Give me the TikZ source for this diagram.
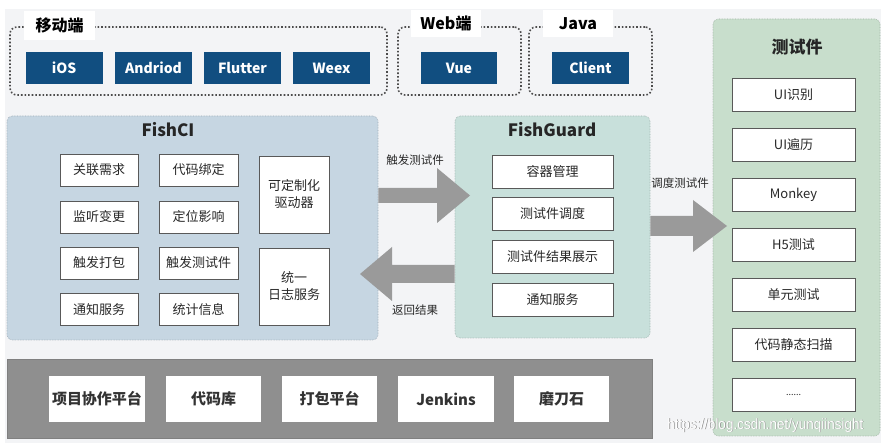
\documentclass[tikz,border=0pt]{standalone}
\usepackage{fontspec}
\setmainfont{Noto Sans CJK SC}
\newfontfamily\wmfont{Liberation Sans}
\definecolor{pagebg}{RGB}{243,244,246}
\definecolor{btnblue}{RGB}{17,78,128}
\definecolor{cibg}{RGB}{198,214,226}
\definecolor{fgbg}{RGB}{200,224,219}
\definecolor{tpbg}{RGB}{200,222,204}
\definecolor{basebg}{RGB}{143,143,143}
\definecolor{arrowgray}{RGB}{154,154,154}
\definecolor{txt}{RGB}{40,40,40}
\begin{document}
\begin{tikzpicture}[x=1pt,y=-1pt,
  panel/.style={rounded corners=5pt, densely dotted, line width=0.6pt, inner sep=0pt},
  group/.style={draw=black!70, dotted, line width=1.6pt, rounded corners=7pt, inner sep=0pt},
  grouplabel/.style={fill=white, inner sep=0pt, font=\fontsize{16}{18}\selectfont\bfseries, text=black},
  btn/.style={fill=btnblue, text=white, font=\fontsize{14}{16}\selectfont\bfseries, minimum width=77pt, minimum height=32pt, inner sep=0pt},
  ibox/.style={draw=black!65, line width=0.8pt, fill=white, text=txt, font=\fontsize{13}{17}\selectfont, align=center, inner sep=0pt, minimum height=33pt},
  bbox/.style={fill=white, text=black!80, font=\fontsize{15}{17}\selectfont\bfseries, inner sep=0pt, minimum height=46pt, minimum width=95pt},
  title/.style={font=\fontsize{17}{19}\selectfont\bfseries, text=black!85},
  alabel/.style={font=\fontsize{11.5}{13}\selectfont, text=txt},
  barrow/.style={fill=arrowgray}
]
\useasboundingbox (0,0) rectangle (887,443);
\fill[pagebg] (5,9) rectangle (881,443);

% ---- top groups ----
\node[group, minimum width=377pt, minimum height=68pt] (mob) at (198.5,61) {};
\node[group, minimum width=123pt, minimum height=68pt] (web) at (459.5,61) {};
\node[group, minimum width=123pt, minimum height=68pt] (java) at (590.5,61) {};
\node[grouplabel, minimum width=71pt, minimum height=29pt] (mobl) at (59.5,25.5) {移动端};
\node[grouplabel, minimum width=70pt, minimum height=27pt] (webl) at (446,23.5) {Web端};
\node[grouplabel, minimum width=70pt, minimum height=27pt] (javal) at (578,23.5) {Java};

\node[btn] (ios) at (64,68) {iOS};
\node[btn] (andriod) at (153.5,68) {Andriod};
\node[btn] (flutter) at (242.5,68) {Flutter};
\node[btn] (weex) at (331.5,68) {Weex};
\node[btn, minimum width=76pt] (vue) at (459,68) {Vue};
\node[btn] (client) at (590.5,68) {Client};

% ---- panels ----
\node[panel, fill=cibg, draw=cibg!80!black, minimum width=371pt, minimum height=224pt] (ci) at (192.5,228) {};
\node[panel, fill=fgbg, draw=fgbg!80!black, minimum width=195pt, minimum height=222pt] (fg) at (552.5,227) {};
\node[panel, fill=tpbg, draw=tpbg!80!black, minimum width=167pt, minimum height=417pt] (tp) at (796.5,227.5) {};

% ---- arrows ----
\fill[barrow] (ci.east |- 0,188) -- (437,188) -- (437,168) -- (470,195.5) -- (437,223) -- (437,203) -- (ci.east |- 0,203) -- cycle;
\fill[barrow] (fg.west |- 0,265) -- (392,265) -- (392,247) -- (360,274) -- (392,301) -- (392,283) -- (fg.west |- 0,283) -- cycle;
\fill[barrow] (fg.east |- 0,216) -- (693,216) -- (693,200) -- (727,226) -- (693,252) -- (693,236) -- (fg.east |- 0,236) -- cycle;
\node[alabel] (l1) at (415,160) {触发测试件};
\node[alabel] (l2) at (415,310) {返回结果};
\node[alabel] (l3) at (680,183) {调度测试件};

% ---- FishCI ----
\node[title] (cit) at (168,130) {FishCI};
\node[ibox, minimum width=78pt, minimum height=32pt] (c11) at (99,170) {关联需求};
\node[ibox, minimum width=78pt, minimum height=32pt] (c21) at (99,217) {监听变更};
\node[ibox, minimum width=78pt, minimum height=32pt] (c31) at (99,263) {触发打包};
\node[ibox, minimum width=78pt, minimum height=32pt] (c41) at (99,309.5) {通知服务};
\node[ibox, minimum width=79pt, minimum height=32pt] (c12) at (198.5,170) {代码绑定};
\node[ibox, minimum width=79pt, minimum height=32pt] (c22) at (198.5,217) {定位影响};
\node[ibox, minimum width=79pt, minimum height=32pt] (c32) at (198.5,263) {触发测试件};
\node[ibox, minimum width=79pt, minimum height=32pt] (c42) at (198.5,309.5) {统计信息};
\node[ibox, minimum width=70pt, minimum height=77pt] (c13) at (294,194.5) {可定制化\\驱动器};
\node[ibox, minimum width=70pt, minimum height=77pt] (c23) at (294,286.5) {统一\\日志服务};

% ---- FishGuard ----
\node[title] (fgt) at (552,130) {FishGuard};
\node[ibox, minimum width=121pt] (g1) at (552.5,171.5) {容器管理};
\node[ibox, minimum width=121pt] (g2) at (552.5,214) {测试件调度};
\node[ibox, minimum width=121pt] (g3) at (552.5,257) {测试件结果展示};
\node[ibox, minimum width=121pt] (g4) at (552.5,300) {通知服务};

% ---- test items ----
\node[title] (tpt) at (797,47) {测试件};
\node[ibox, minimum width=123pt] (t1) at (793.5,94.5) {UI识别};
\node[ibox, minimum width=123pt] (t2) at (793.5,144.5) {UI遍历};
\node[ibox, minimum width=123pt] (t3) at (793.5,194.5) {Monkey};
\node[ibox, minimum width=123pt] (t4) at (793.5,244.5) {H5测试};
\node[ibox, minimum width=123pt] (t5) at (793.5,294.5) {单元测试};
\node[ibox, minimum width=123pt] (t6) at (793.5,344.5) {代码静态扫描};
\node[ibox, minimum width=123pt, font=\fontsize{9}{11}\selectfont] (t7) at (793.5,394.5) {......};

% ---- base platforms ----
\node[fill=basebg, draw=black!50, line width=0.8pt, minimum width=645pt, minimum height=79pt, inner sep=0pt] (base) at (329.5,398.5) {};
\node[bbox, minimum width=96pt] (b1) at (97,399) {项目协作平台};
\node[bbox] (b2) at (213.5,399) {代码库};
\node[bbox] (b3) at (329.5,399) {打包平台};
\node[bbox, minimum width=96pt] (b4) at (446,399) {Jenkins};
\node[bbox] (b5) at (561.5,399) {磨刀石};

% ---- watermark ----
\node[font=\wmfont\fontsize{15}{17}\selectfont, text=black!45, xscale=0.9] (wm0) at (766,426) {https://blog.csdn.net/yunqiinsight};
\node[font=\wmfont\fontsize{15}{17}\selectfont, text=white, xscale=0.9] (wm) at (765.4,425.4) {https://blog.csdn.net/yunqiinsight};
\end{tikzpicture}
\end{document}
